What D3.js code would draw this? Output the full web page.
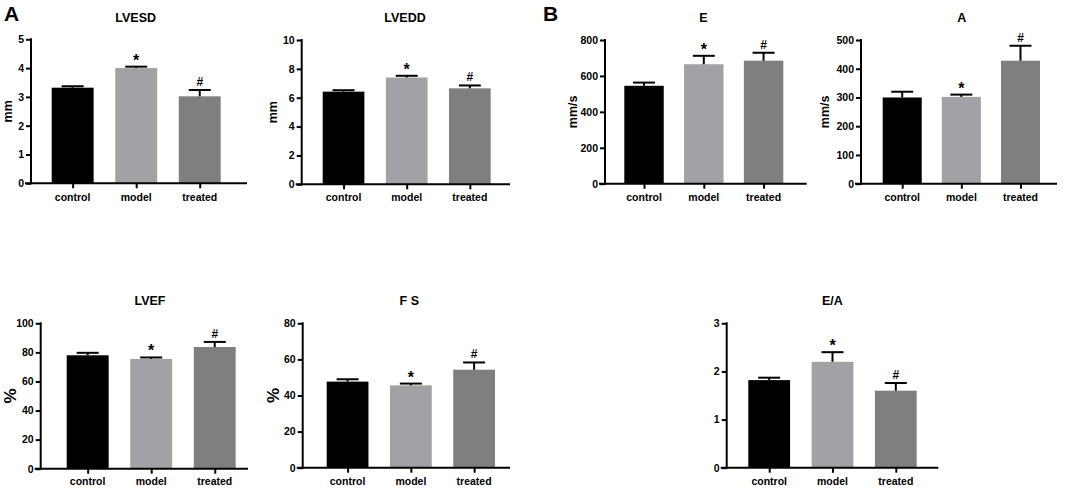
<!DOCTYPE html>
<html><head><meta charset="utf-8">
<script src="https://cdn.jsdelivr.net/npm/d3@7"></script>
<style>
body{margin:0;background:#fff;}
text{font-family:"Liberation Sans",Arial,sans-serif;font-weight:bold;fill:#000;}
</style></head>
<body><svg id="c" width="1065" height="488"></svg>
<script>
const groups = ["control", "model", "treated"];
const marks = ["", "*", "#"];

const lvesdMean = [3.32, 4.00, 3.02], lvesdErr = [0.05, 0.05, 0.22];
const lveddMean = [6.42, 7.40, 6.65], lveddErr = [0.10, 0.12, 0.20];
const eMean = [545, 665, 685], eErr = [18, 47, 44];
const aMean = [300, 302, 428], aErr = [20, 8, 52];
const lvefMean = [78.0, 75.5, 83.7], lvefErr = [1.7, 1.0, 3.5];
const fsMean = [47.7, 45.6, 54.3], fsErr = [1.3, 1.0, 4.0];
const eaMean = [1.82, 2.20, 1.60], eaErr = [0.05, 0.20, 0.16];

const lvesdTicks = [0, 1, 2, 3, 4, 5];
const lveddTicks = [0, 2, 4, 6, 8, 10];
const eTicks = [0, 200, 400, 600, 800];
const aTicks = [0, 100, 200, 300, 400, 500];
const lvefTicks = [0, 20, 40, 60, 80, 100];
const fsTicks = [0, 20, 40, 60, 80];
const eaTicks = [0, 1, 2, 3];

const colors = ["#000000", "#a2a2a6", "#7f7f7f"];

const panels = [
  {title:"LVESD", mean:lvesdMean, err:lvesdErr, ticks:lvesdTicks, ylab:"mm", ax:31, top:39.3, bot:183.3, xEnd:247, b0:51.7, b1:220.7, tx:135.7, ty:22, lx:8, lfs:12.5, xly:201},
  {title:"LVEDD", mean:lveddMean, err:lveddErr, ticks:lveddTicks, ylab:"mm", ax:301.7, top:40, bot:184.3, xEnd:510, b0:322.7, b1:490.7, tx:405, ty:22, lx:273, lfs:12.5, xly:201},
  {title:"E", mean:eMean, err:eErr, ticks:eTicks, ylab:"mm/s", ax:605, top:40, bot:183.7, xEnd:806.7, b0:624.3, b1:783.3, tx:703.3, ty:22, lx:573, lfs:12.5, xly:201},
  {title:"A", mean:aMean, err:aErr, ticks:aTicks, ylab:"mm/s", ax:861, top:40, bot:183.7, xEnd:1057, b0:882.7, b1:1040, tx:961.7, ty:22, lx:825, lfs:12.5, xly:201},
  {title:"LVEF", mean:lvefMean, err:lvefErr, ticks:lvefTicks, ylab:"%", ax:40.7, top:323.3, bot:468.7, xEnd:248, b0:66.7, b1:235.7, tx:150, ty:305, lx:10, lfs:17, xly:485},
  {title:"F S", mean:fsMean, err:fsErr, ticks:fsTicks, ylab:"%", ax:302.7, top:323.3, bot:467.7, xEnd:510, b0:326.7, b1:495, tx:409.3, ty:305, lx:273, lfs:17, xly:485},
  {title:"E/A", mean:eaMean, err:eaErr, ticks:eaTicks, ylab:"", ax:726.7, top:323.3, bot:467.7, xEnd:938.3, b0:748.3, b1:916.7, tx:832.3, ty:305, lx:0, lfs:12, xly:485}
];

const svg = d3.select("#c");

svg.append("text").attr("x", 4).attr("y", 21).attr("font-size", 21).text("A");
svg.append("text").attr("x", 543).attr("y", 21).attr("font-size", 21).text("B");

panels.forEach(p => {
  const g = svg.append("g");
  const y = d3.scaleLinear().domain([0, p.ticks[p.ticks.length-1]]).range([p.bot, p.top]);
  const x = d3.scaleBand().domain(groups).range([p.b0, p.b1]).paddingInner(0.34);
  const rows = groups.map((k, i) => ({k, m:p.mean[i], e:p.err[i], mark:marks[i], c:colors[i]}));

  g.selectAll("rect.bar").data(rows).join("rect")
    .attr("x", d => x(d.k)).attr("width", x.bandwidth())
    .attr("y", d => y(d.m)).attr("height", d => y(0) - y(d.m))
    .attr("fill", d => d.c);

  const cap = 22;
  g.selectAll("line.ev").data(rows).join("line")
    .attr("x1", d => x(d.k) + x.bandwidth()/2).attr("x2", d => x(d.k) + x.bandwidth()/2)
    .attr("y1", d => y(d.m)).attr("y2", d => y(d.m + d.e))
    .attr("stroke", "#000").attr("stroke-width", 2);
  g.selectAll("line.ec").data(rows).join("line")
    .attr("x1", d => x(d.k) + x.bandwidth()/2 - cap/2).attr("x2", d => x(d.k) + x.bandwidth()/2 + cap/2)
    .attr("y1", d => y(d.m + d.e)).attr("y2", d => y(d.m + d.e))
    .attr("stroke", "#000").attr("stroke-width", 2);

  g.selectAll("text.mk").data(rows.filter(d => d.mark)).join("text")
    .attr("x", d => x(d.k) + x.bandwidth()/2)
    .attr("y", d => y(d.m + d.e) - (d.mark === "*" ? 1 : 4))
    .attr("text-anchor", "middle")
    .attr("font-size", d => d.mark === "*" ? 16 : 12)
    .attr("font-weight", d => d.mark === "*" ? "bold" : "normal")
    .text(d => d.mark);

  const yAxis = d3.axisLeft(y).tickValues(p.ticks).tickSize(5).tickPadding(2).tickFormat(d3.format("d"));
  const ya = g.append("g").attr("transform", `translate(${p.ax},0)`).call(yAxis);
  ya.select(".domain").attr("stroke-width", 2).attr("d", `M0,${p.top - 1}V${p.bot + 1}`);
  ya.selectAll(".tick line").attr("stroke-width", 2);
  ya.selectAll(".tick text").attr("font-size", 10.5).attr("font-family", "Liberation Sans, Arial, sans-serif").attr("font-weight", "bold");

  const xPt = d3.scalePoint().domain(groups).range([x("control") + x.bandwidth()/2, x("treated") + x.bandwidth()/2]);
  const xa = g.append("g").attr("transform", `translate(0,${p.bot})`)
    .call(d3.axisBottom(xPt).tickSize(5).tickPadding(4).tickSizeOuter(0));
  xa.select(".domain").attr("stroke-width", 2).attr("d", `M${p.ax - 6},0H${p.xEnd}`);
  xa.selectAll(".tick line").attr("stroke-width", 2);
  xa.selectAll(".tick text").remove();
  g.selectAll("text.xl").data(groups).join("text")
    .attr("x", d => xPt(d)).attr("y", p.xly).attr("text-anchor", "middle").attr("font-size", 10.5).text(d => d);

  g.append("text").attr("x", p.tx).attr("y", p.ty).attr("text-anchor", "middle").attr("font-size", 12.5).text(p.title);

  if (p.ylab) {
    g.append("text").attr("transform", `translate(${p.lx + p.lfs*0.35},${(p.top + p.bot)/2}) rotate(-90)`)
      .attr("text-anchor", "middle").attr("font-size", p.lfs).text(p.ylab);
  }
});
</script></body></html>
